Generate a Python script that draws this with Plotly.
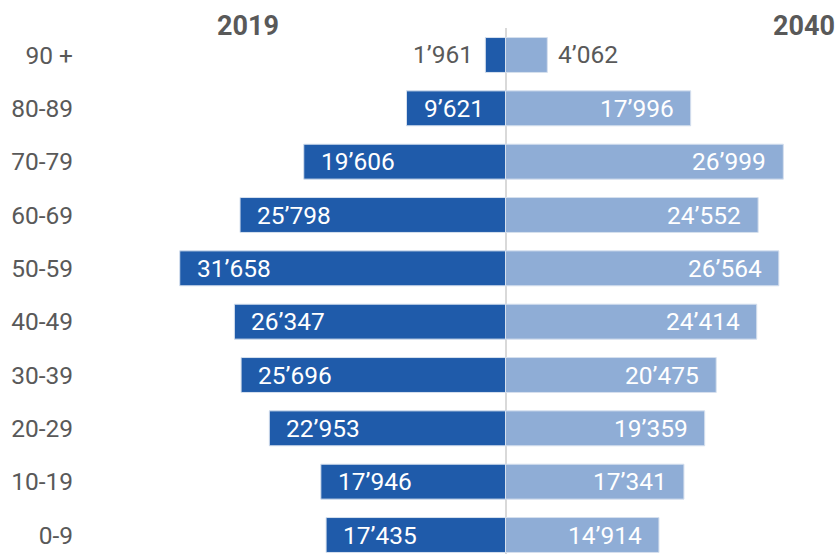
import plotly.graph_objects as go

ages = ["0-9", "10-19", "20-29", "30-39", "40-49", "50-59", "60-69", "70-79", "80-89", "90 +"]
pop_2019 = [17435, 17946, 22953, 25696, 26347, 31658, 25798, 19606, 9621, 1961]
pop_2040 = [14914, 17341, 19359, 20475, 24414, 26564, 24552, 26999, 17996, 4062]
series_names = ["2019", "2040"]

DARK = "#1F5BAA"
LIGHT = "#8FADD6"
GREY = "#595959"
FONT = "Roboto"
FS = 24.5

def fmt(v):
    return f"{v:,}".replace(",", "\u2019")

fig = go.Figure()
fig.add_trace(go.Bar(
    y=ages, x=[-v for v in pop_2019], orientation="h", name=series_names[0],
    marker=dict(color=DARK, line=dict(color="#D6E0EE", width=1)),
    hoverinfo="skip",
))
fig.add_trace(go.Bar(
    y=ages, x=pop_2040, orientation="h", name=series_names[1],
    marker=dict(color=LIGHT, line=dict(color="#D6E0EE", width=1)),
    hoverinfo="skip",
))

annotations = []
for a, v in zip(ages, pop_2019):
    if v < 5000:
        annotations.append(dict(x=-v, y=a, text=fmt(v), xanchor="right", xshift=-10,
                                showarrow=False, font=dict(color=GREY, size=FS, family=FONT)))
    else:
        annotations.append(dict(x=-v, y=a, text=fmt(v), xanchor="left", xshift=15,
                                showarrow=False, font=dict(color="white", size=FS, family=FONT)))
for a, v in zip(ages, pop_2040):
    if v < 5000:
        annotations.append(dict(x=v, y=a, text=fmt(v), xanchor="left", xshift=9,
                                showarrow=False, font=dict(color=GREY, size=FS, family=FONT)))
    else:
        annotations.append(dict(x=v, y=a, text=fmt(v), xanchor="right", xshift=-15,
                                showarrow=False, font=dict(color="white", size=FS, family=FONT)))

annotations.append(dict(x=0.222, y=26, xref="paper", yref="paper", text="<b>2019</b>",
                        showarrow=False, xanchor="center", yanchor="middle",
                        font=dict(color=GREY, size=27, family=FONT)))
annotations.append(dict(x=1, y=26, xref="paper", yref="paper", text="<b>2040</b>",
                        showarrow=False, xanchor="right", yanchor="middle",
                        font=dict(color=GREY, size=27, family=FONT)))

# convert pixel y for titles into paper coords
plot_top, plot_h = 28, 526
for an in annotations[-2:]:
    an["y"] = 1 + (plot_top - an["y"]) / plot_h

fig.update_layout(
    width=837, height=554,
    margin=dict(l=80, r=0, t=28, b=0),
    barmode="overlay", bargap=0.345,
    plot_bgcolor="white", paper_bgcolor="white",
    showlegend=False,
    annotations=annotations,
    font=dict(family=FONT, color=GREY),
)
fig.update_xaxes(range=[-41351, 32216], showgrid=False, showticklabels=False,
                 zeroline=True, zerolinecolor="#D9D9D9", zerolinewidth=2, fixedrange=True)
fig.update_yaxes(categoryorder="array", categoryarray=ages, range=[-0.356, 9.506],
                 showgrid=False, zeroline=False, ticks="", ticklabelstandoff=6,
                 tickfont=dict(size=FS, color=GREY, family=FONT), fixedrange=True)

fig.write_html("out.html", config={"displayModeBar": False})
